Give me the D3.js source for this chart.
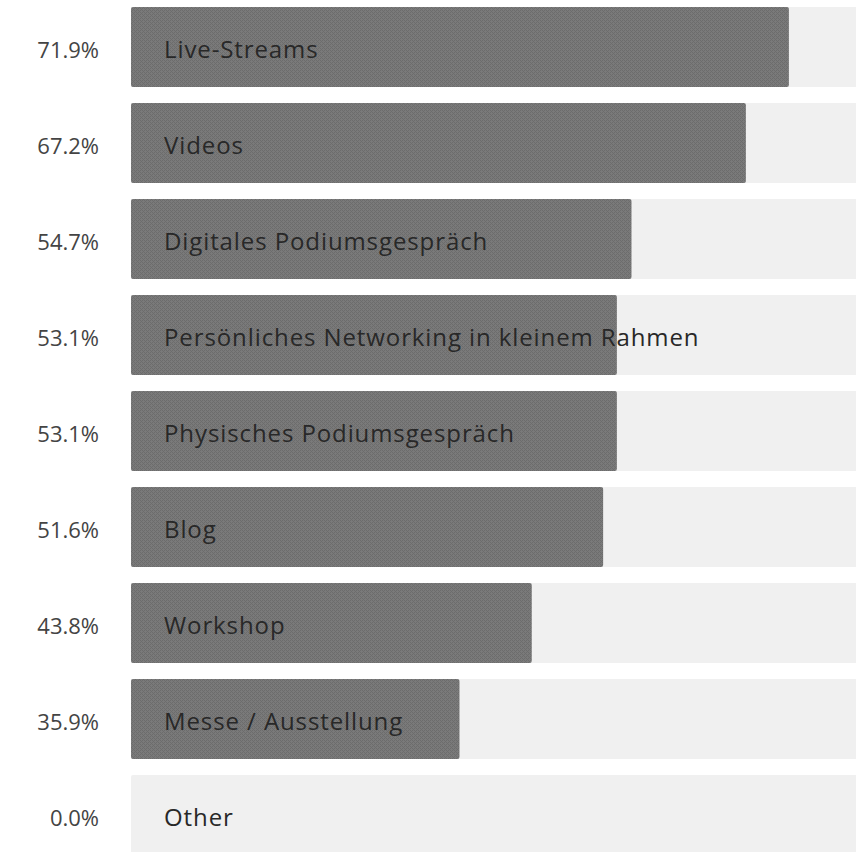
<!doctype html>
<html lang='en'>
<head>
    <meta charset='UTF-8'>
    <title>Chart</title>
    <style>
        body {
            margin: 0;
            background: #fff;
        }

        text {
            font-family: 'Open Sans', 'Noto Sans', sans-serif;
        }

        .pct {
            fill: rgb(68, 68, 68);
            font-size: 22px;
        }

        .label {
            fill: rgb(40, 40, 40);
            font-size: 24px;
            letter-spacing: 0.9px;
        }
    </style>
</head>
<body>

<script src='https://d3js.org/d3.v7.min.js'></script>
<script>
  const categories = ['Live-Streams', 'Videos', 'Digitales Podiumsgespräch', 'Persönliches Networking in kleinem Rahmen',
    'Physisches Podiumsgespräch', 'Blog', 'Workshop', 'Messe / Ausstellung', 'Other']
  const values = [71.9, 67.2, 54.7, 53.1, 53.1, 51.6, 43.8, 35.9, 0.0]

  const w = 856, h = 852

  const yScale = d3.scaleBand()
    .domain(categories)
    .range([7, 855])
    .paddingInner(1 / 6)
    .paddingOuter(0)

  const xScale = d3.scaleLinear()
    .domain([0, 100])
    .range([131, 1046])

  const svg = d3.select('body').append('svg')
    .attr('width', w)
    .attr('height', h)

  // dithered grey fill
  const pat = svg.append('defs').append('pattern')
    .attr('id', 'dots')
    .attr('width', 4)
    .attr('height', 4)
    .attr('patternUnits', 'userSpaceOnUse')
  pat.append('rect').attr('width', 4).attr('height', 4).attr('fill', 'rgb(122, 122, 122)')
  ;[[0, 0], [1, 1], [2, 2], [3, 3], [2, 0], [0, 2]].forEach(([a, b]) => {
    pat.append('rect').attr('x', a).attr('y', b).attr('width', 1).attr('height', 1).attr('fill', 'rgb(108, 108, 108)')
  })

  const rows = svg.selectAll('g.row')
    .data(categories)
    .enter()
    .append('g')
    .attr('class', 'row')

  rows.append('rect')
    .attr('x', xScale(0))
    .attr('y', d => yScale(d))
    .attr('width', xScale(100) - xScale(0))
    .attr('height', yScale.bandwidth())
    .attr('rx', 2)
    .attr('fill', 'rgb(240, 240, 240)')

  rows.append('rect')
    .attr('x', xScale(0))
    .attr('y', d => yScale(d))
    .attr('width', (d, i) => xScale(values[i]) - xScale(0))
    .attr('height', yScale.bandwidth())
    .attr('rx', 2)
    .attr('fill', 'url(#dots)')

  rows.append('text')
    .attr('class', 'pct')
    .attr('x', 99)
    .attr('y', d => yScale(d) + yScale.bandwidth() / 2 + 3)
    .attr('dy', '0.35em')
    .attr('text-anchor', 'end')
    .text((d, i) => values[i].toFixed(1) + '%')

  rows.append('text')
    .attr('class', 'label')
    .attr('x', 164)
    .attr('y', d => yScale(d) + yScale.bandwidth() / 2 + 3)
    .attr('dy', '0.35em')
    .text(d => d)
</script>
</body>
</html>
